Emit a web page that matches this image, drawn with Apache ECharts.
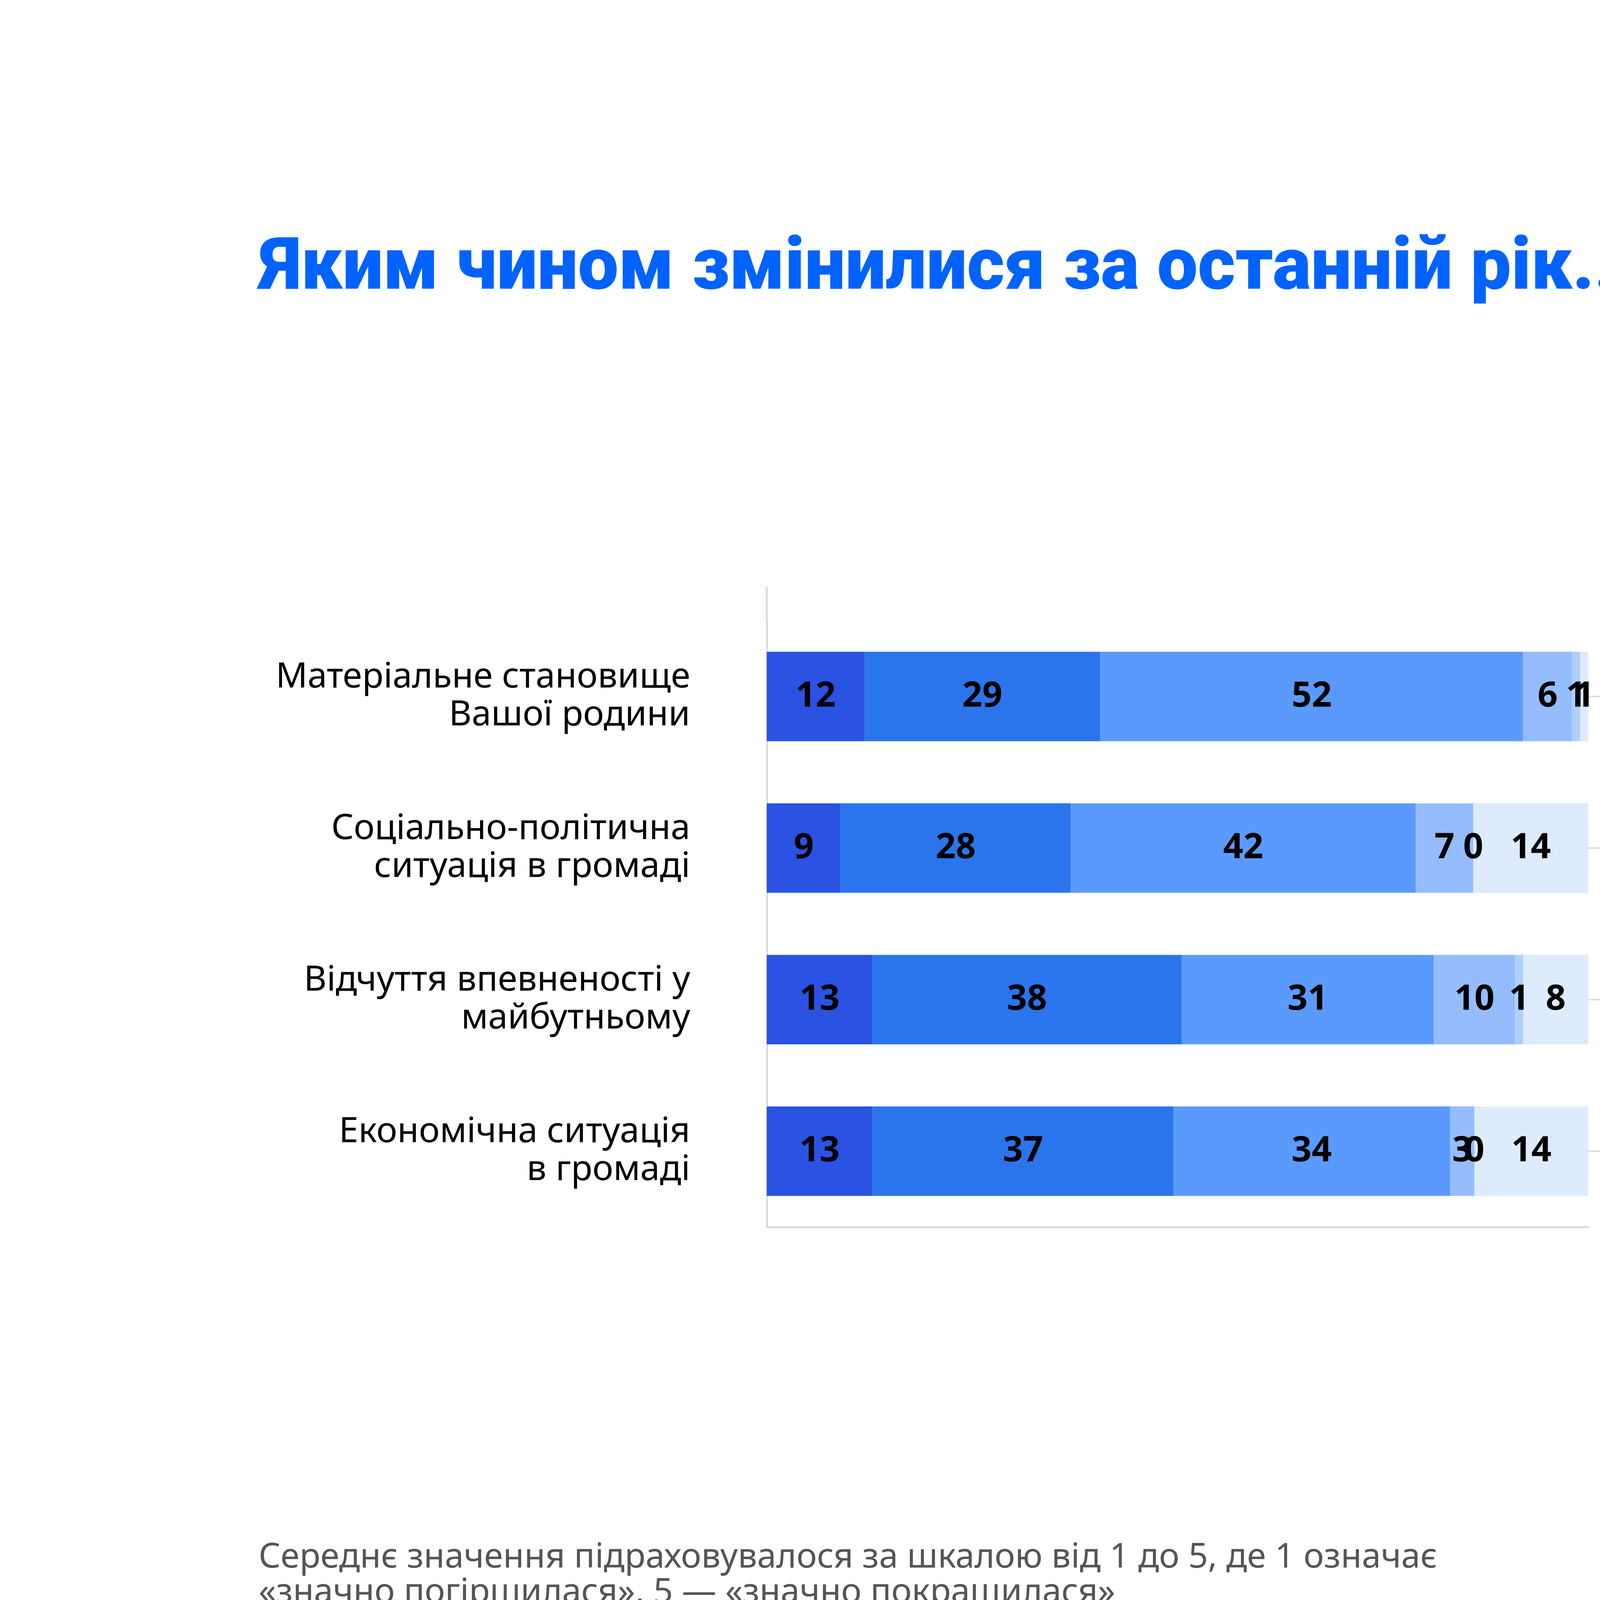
<!DOCTYPE html>
<html lang="uk">
<head>
    <meta charset="UTF-8">
    <title>Яким чином змінилися за останній рік</title>
    <script src="https://cdn.jsdelivr.net/npm/echarts@6/dist/echarts.min.js"></script>
    <style>
        html, body {
            margin: 0;
            padding: 0;
            background: #ffffff;
        }
        #chart {
            width: 8000px;
            height: 4500px;
        }
    </style>
</head>
<body>
<div id="chart"></div>
<script>
    // categories (top to bottom)
    var categories = [
        'Матеріальне становище\nВашої родини',
        'Соціально-політична\nситуація в громаді',
        'Відчуття впевненості у\nмайбутньому',
        'Економічна ситуація\nв громаді'
    ];

    var seriesNames = [
        'Значно погіршилася',
        'Скоріше погіршилася',
        'Лишилась як є',
        'Скоріше покращилася',
        'Значно покращилася',
        'Важко відповісти'
    ];

    // values in %
    var muchWorse = [12, 9, 13, 13];
    var ratherWorse = [29, 28, 38, 37];
    var same = [52, 42, 31, 34];
    var ratherBetter = [6, 7, 10, 3];
    var muchBetter = [1, 0, 1, 0];
    var hardToSay = [1, 14, 8, 14];

    // average on a 1..5 scale
    var averages = [2.6, 2.5, 2.4, 2.3];

    var colors = ['#2a52e3', '#2a75eb', '#5b9afd', '#95bdfd', '#aed0fe', '#ddebfd'];

    var FONT = '"Noto Sans", "Open Sans", sans-serif';

    var values = [muchWorse, ratherWorse, same, ratherBetter, muchBetter, hardToSay];

    // every bar is stretched to full width, as in the original slide
    var rowTotals = categories.map(function (c, i) {
        var s = 0;
        values.forEach(function (arr) { s += arr[i]; });
        return s;
    });

    var series = values.map(function (arr, k) {
        return {
            name: seriesNames[k],
            type: 'bar',
            stack: 'total',
            xAxisIndex: 0,
            yAxisIndex: 0,
            barWidth: 229,
            itemStyle: { color: colors[k] },
            label: {
                show: true,
                position: 'inside',
                color: '#000',
                fontFamily: FONT,
                fontWeight: 'bold',
                fontSize: 90,
                formatter: function (p) { return arr[p.dataIndex]; }
            },
            data: arr.map(function (v, i) { return v / rowTotals[i] * 100; })
        };
    });

    // connector from bar end to the average circle
    series.push({
        name: 'connector',
        type: 'bar',
        xAxisIndex: 1,
        yAxisIndex: 1,
        barWidth: 4,
        silent: true,
        itemStyle: { color: '#dddddd' },
        data: averages.map(function () { return 1; }),
        z: 1
    });

    series.push({
        name: 'average',
        type: 'scatter',
        xAxisIndex: 1,
        yAxisIndex: 1,
        clip: false,
        symbol: 'circle',
        symbolSize: 224,
        itemStyle: { color: '#ffffff', borderColor: '#9cc3ff', borderWidth: 5, opacity: 1 },
        label: {
            show: true,
            position: 'inside',
            color: '#132222',
            fontFamily: FONT,
            fontWeight: 'bold',
            fontSize: 92,
            formatter: function (p) { return averages[p.dataIndex].toFixed(1).replace('.', ','); }
        },
        data: averages.map(function (a, i) { return [1, i]; }),
        z: 5
    });

    var myChart = echarts.init(document.getElementById('chart'));
    var option = {
        animation: false,
        backgroundColor: '#ffffff',
        textStyle: { fontFamily: FONT },
        legend: {
            data: seriesNames,
            orient: 'vertical',
            left: 5458,
            top: 1656,
            icon: 'circle',
            itemWidth: 80,
            itemHeight: 80,
            itemGap: 76,
            selectedMode: false,
            textStyle: {
                color: '#000',
                fontFamily: FONT,
                fontSize: 90,
                lineHeight: 80,
                padding: [0, 0, 0, 62]
            }
        },
        grid: [
            { left: 1963, top: 1589, width: 2103, height: 1552 },
            { left: 4066, top: 1589, width: 350, height: 1552 }
        ],
        xAxis: [
            {
                type: 'value',
                gridIndex: 0,
                min: 0,
                max: 100,
                axisLine: { show: true, lineStyle: { color: '#dcdcdc', width: 5 } },
                axisTick: { show: false },
                axisLabel: { show: false },
                splitLine: { show: false }
            },
            {
                type: 'value',
                gridIndex: 1,
                min: 0,
                max: 1,
                show: false
            }
        ],
        yAxis: [
            {
                type: 'category',
                gridIndex: 0,
                inverse: true,
                data: categories,
                axisLine: { show: true, lineStyle: { color: '#dcdcdc', width: 5 } },
                axisTick: { show: false },
                axisLabel: {
                    margin: 196,
                    align: 'right',
                    color: '#000',
                    fontFamily: FONT,
                    fontSize: 90,
                    lineHeight: 97
                }
            },
            {
                type: 'category',
                gridIndex: 1,
                inverse: true,
                data: categories,
                show: false
            }
        ],
        graphic: [
            // title
            {
                type: 'text',
                left: 665,
                top: 600,
                style: {
                    text: '{t|Яким чином змінилися за останній рік...?}{p| (%)}',
                    rich: {
                        t: { fontFamily: 'Roboto, ' + FONT, fontWeight: 900, fontSize: 185, fill: '#0062ff' },
                        p: { fontFamily: FONT, fontSize: 140, fill: '#7f7f7f' }
                    }
                }
            },
            {
                type: 'line',
                shape: { x1: 4741, y1: 700, x2: 7333, y2: 688 },
                style: { stroke: '#e2e2e2', lineWidth: 8 }
            },
            // logo
            {
                type: 'text',
                x: 6826,
                y: 380,
                style: {
                    text: 'опора',
                    fontFamily: FONT,
                    fontWeight: 'bold',
                    fontSize: 132,
                    fill: '#000',
                    verticalAlign: 'middle'
                }
            },
            {
                type: 'polygon',
                shape: { points: [[7289, 254], [7242, 333], [7334, 333]] },
                style: { fill: '#0062ff' }
            },
            // y axis extension above the first bar
            {
                type: 'line',
                shape: { x1: 1963, y1: 1502, x2: 1963, y2: 1592 },
                style: { stroke: '#dcdcdc', lineWidth: 5 }
            },
            // average header
            {
                type: 'text',
                x: 4416,
                y: 1445,
                style: {
                    text: 'Середнє\nзначення',
                    fontFamily: FONT,
                    fontSize: 94,
                    lineHeight: 95,
                    fill: '#000',
                    align: 'center',
                    verticalAlign: 'middle'
                }
            },
            // footnote
            {
                type: 'text',
                x: 662,
                y: 4033,
                style: {
                    text: 'Середнє значення підраховувалося за шкалою від 1 до 5, де 1 означає\n«значно погіршилася», 5 — «значно покращилася»',
                    fontFamily: FONT,
                    fontSize: 88,
                    lineHeight: 90,
                    fill: '#555555',
                    verticalAlign: 'middle'
                }
            },
            {
                type: 'line',
                shape: { x1: 665, y1: 4196, x2: 7071, y2: 4196 },
                style: { stroke: '#e2e2e2', lineWidth: 7 }
            },
            {
                type: 'text',
                x: 7245,
                y: 4195,
                style: {
                    text: '17',
                    fontFamily: FONT,
                    fontSize: 84,
                    fill: '#000',
                    verticalAlign: 'middle'
                }
            }
        ],
        series: series
    };
    myChart.setOption(option);
</script>
</body>
</html>
